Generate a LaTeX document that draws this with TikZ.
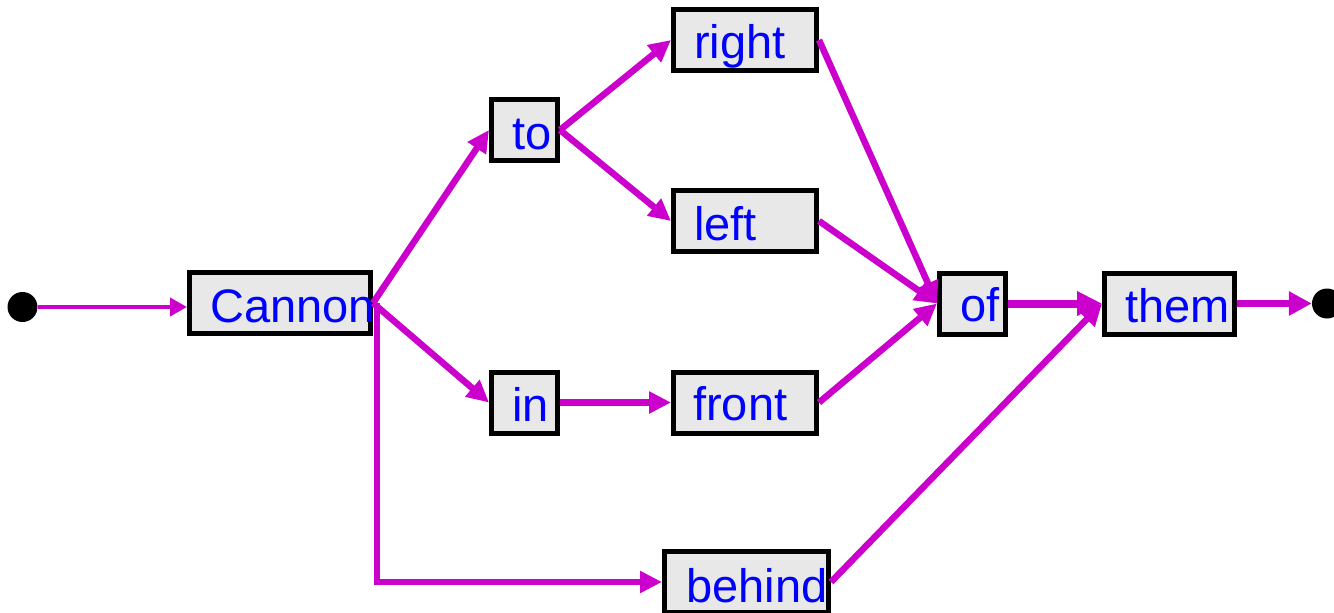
\documentclass[tikz,border=0pt]{standalone}
\usepackage{fontspec}
\setmainfont{Liberation Sans}
\usetikzlibrary{arrows.meta}
\definecolor{mag}{HTML}{CC00CC}
\definecolor{boxfill}{HTML}{E8E8E8}
\definecolor{wordblue}{HTML}{0000FF}
\begin{document}
\begin{tikzpicture}[x=1pt,y=-1pt,
  wbox/.style={draw=black, line width=5pt, fill=boxfill, inner sep=0pt, minimum height=61pt},
  word/.style={anchor=base west, inner sep=0pt, text=wordblue, font=\fontsize{47}{50}\selectfont},
  dot/.style={circle, fill=black, inner sep=0pt, minimum size=30pt},
  conn/.style={draw=mag, line width=6.5pt, -{Triangle[length=22pt,width=21pt]}},
]
\useasboundingbox (0,0) rectangle (1334,613);
% boxes
\node[wbox, minimum width=181pt] (cannon) at (280,303) {};
\node[wbox, minimum width=66pt] (to) at (524.5,130) {};
\node[wbox, minimum width=66pt] (in) at (524.5,402.5) {};
\node[wbox, minimum width=143pt] (right) at (745,40) {};
\node[wbox, minimum width=143pt] (left) at (745,221) {};
\node[wbox, minimum width=143pt] (front) at (745,402.5) {};
\node[wbox, minimum width=164pt] (behind) at (746.5,582) {};
\node[wbox, minimum width=66pt] (of) at (972.5,303.5) {};
\node[wbox, minimum width=130pt] (them) at (1169.5,303.5) {};
% words
\node[word] (cannon-t) at ([shift={(23pt,14pt)}]cannon.south west) {Cannon};
\node[word] (to-t) at ([shift={(23pt,14pt)}]to.south west) {to};
\node[word] (in-t) at ([shift={(23pt,14pt)}]in.south west) {in};
\node[word] (right-t) at ([shift={(23pt,15pt)}]right.south west) {right};
\node[word] (left-t) at ([shift={(23pt,14pt)}]left.south west) {left};
\node[word] (front-t) at ([shift={(22pt,15pt)}]front.south west) {front};
\node[word] (behind-t) at ([shift={(24pt,13pt)}]behind.south west) {behind};
\node[word] (of-t) at ([shift={(23pt,15pt)}]of.south west) {of};
\node[word] (them-t) at ([shift={(23pt,14pt)}]them.south west) {them};
% end dots
\node[dot] (start) at (22.5,307) {};
\node[dot] (stop) at (1327,303.5) {};
% connectors
\draw[conn, line width=4pt, -{Triangle[length=17pt,width=18pt]}] (start.east) -- (start.east -| cannon.west);
\draw[conn] (cannon.east) -- (to.west);
\draw[conn] (cannon.east) -- (in.west);
\draw[conn] ([xshift=4pt]cannon.east) |- (behind.west);
\draw[conn] (to.east) -- (right.west);
\draw[conn] (to.east) -- (left.west);
\draw[conn] (in.east) -- (front.west);
\draw[conn] (right.east) -- (of.west);
\draw[conn] (left.east) -- (of.west);
\draw[conn] (front.east) -- (of.west);
\draw[conn, line width=8pt, -{Triangle[length=25pt,width=23pt]}] (of.east) -- (them.west);
\draw[conn] (behind.east) -- (them.west);
\draw[conn, line width=6.5pt, -{Triangle[length=23pt,width=23pt]}] (them.east) -- (stop.west);
\end{tikzpicture}
\end{document}
